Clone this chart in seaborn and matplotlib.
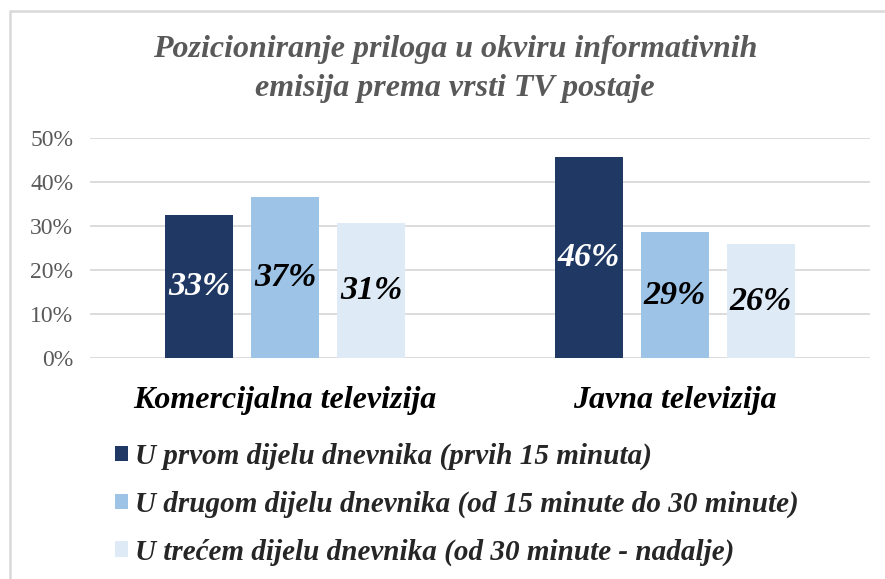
import matplotlib
matplotlib.use("Agg")
import matplotlib.pyplot as plt
import matplotlib.patches as mpatches
import seaborn as sns
import pandas as pd

categories = ["Komercijalna televizija", "Javna televizija"]
series = [
    "U prvom dijelu dnevnika (prvih 15 minuta)",
    "U drugom dijelu dnevnika (od 15 minute do 30 minute)",
    "U trećem dijelu dnevnika (od 30 minute - nadalje)",
]
values_komercijalna = [0.326, 0.366, 0.306]
values_javna = [0.456, 0.286, 0.259]
yticks = [0, 0.1, 0.2, 0.3, 0.4, 0.5]
ytick_labels = ["0%", "10%", "20%", "30%", "40%", "50%"]
colors = ["#203864", "#9DC3E6", "#DEEBF7"]
label_colors = ["white", "black", "black"]
title = "Pozicioniranje priloga u okviru informativnih\nemisija prema vrsti TV postaje"

rows = []
for cat, vals in zip(categories, [values_komercijalna, values_javna]):
    for s, v in zip(series, vals):
        rows.append({"cat": cat, "series": s, "value": v})
df = pd.DataFrame(rows)

sns.set_theme(style="white")
plt.rcParams["font.family"] = ["Liberation Serif", "DejaVu Serif"]

W, H = 885, 579
fig = plt.figure(figsize=(W / 100, H / 100), dpi=100)
ax = fig.add_axes([90 / W, 1 - 358 / H, 780 / W, 220 / H])

sns.barplot(data=df, x="cat", y="value", hue="series", order=categories,
            hue_order=series, palette=colors, width=0.6615, gap=0.21,
            saturation=1, ax=ax, legend=False, edgecolor="none")

ax.set_ylim(0, 0.5)
ax.set_xlim(-0.5, 1.5)
ax.set_yticks(yticks)
ax.set_yticklabels(ytick_labels, color="#595959", fontsize=17)
ax.yaxis.grid(True, color="#D9D9D9", linewidth=1.3)
ax.set_axisbelow(True)
for sp in ax.spines.values():
    sp.set_visible(False)
ax.tick_params(axis="both", length=0)
ax.tick_params(axis="y", pad=12)
ax.tick_params(axis="x", pad=20)
ax.set_xlabel("")
ax.set_ylabel("")
for lab in ax.get_xticklabels():
    lab.set_fontsize(23)
    lab.set_fontweight("bold")
    lab.set_fontstyle("italic")
    lab.set_color("black")

for i, cont in enumerate(ax.containers):
    ax.bar_label(cont, labels=[f"{round(b.get_height() * 100):d}%" for b in cont],
                 label_type="center", color=label_colors[i], fontsize=24.5,
                 fontweight="bold", fontstyle="italic")

fig.text(455 / W, 1 - 69 / H, title, ha="center", va="center", fontsize=23,
         fontweight="bold", fontstyle="italic", color="#595959", linespacing=1.45)

handles = [mpatches.Patch(facecolor=c, edgecolor="none") for c in colors]
leg = fig.legend(handles, series, loc="upper left", bbox_to_anchor=(115 / W, 1 - 443 / H),
                 frameon=False, prop={"family": "Liberation Serif", "weight": "bold",
                                      "style": "italic", "size": 21},
                 handlelength=0.45, handleheight=0.45, handletextpad=0.25,
                 labelspacing=0.7, borderaxespad=0, borderpad=0)

frame = mpatches.Rectangle((10 / W, -0.1), 1.2, 1 - 11 / H + 0.1, transform=fig.transFigure,
                           fill=False, edgecolor="#D9D9D9", linewidth=1.8)
fig.patches.append(frame)

fig.savefig("out.png", dpi=100)
